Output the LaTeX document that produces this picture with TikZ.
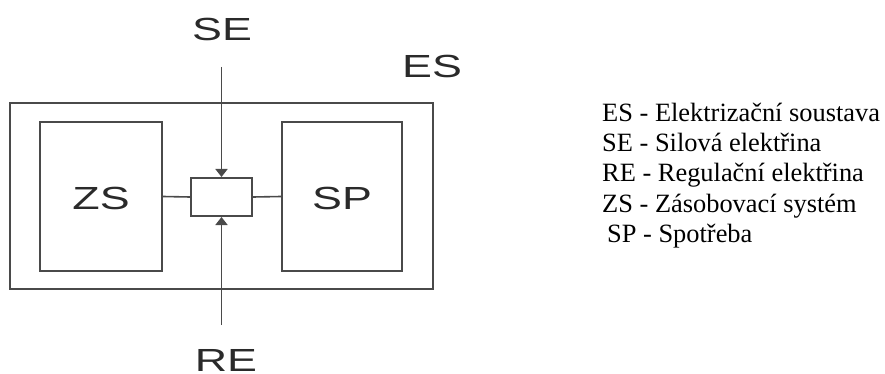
\documentclass[tikz,border=0pt]{standalone}
\usepackage{fontspec}
\setmainfont{Liberation Serif}
\newfontfamily\arialfont{Liberation Sans}
\usetikzlibrary{arrows.meta}
\definecolor{linegray}{HTML}{4A4A4A}
\definecolor{labelgray}{HTML}{2A2A2A}
\begin{document}
\begin{tikzpicture}[x=1pt,y=-1pt,
  box/.style={draw=linegray, line width=2pt, inner sep=0pt, fill=white},
  lbl/.style={font=\arialfont\fontsize{32}{32}\selectfont, text=labelgray, inner sep=0pt, anchor=base},
  conn/.style={draw=linegray, line width=1.6pt},
  arr/.style={conn, -{Triangle[length=8pt,width=12pt]}},
  leg/.style={font=\fontsize{26.4}{30}\selectfont, inner sep=0pt, anchor=base west}
]
\useasboundingbox (0,0) rectangle (885,374);
% boxes
\node[box, minimum width=423pt, minimum height=186pt] (es) at (221.5,196) {};
\node[box, minimum width=122pt, minimum height=149pt] (zs) at (101,196.5) {};
\node[box, minimum width=120pt, minimum height=149pt] (sp) at (342,196.5) {};
\node[box, minimum width=61pt, minimum height=38pt] (ctr) at (221.5,197) {};
% labels
\node[lbl] (zsl) at (101,209) {\scalebox{1.4}[1]{ZS}};
\node[lbl] (spl) at (342,209) {\scalebox{1.4}[1]{SP}};
\node[lbl] (sel) at (222,41) {\scalebox{1.4}[1]{SE}};
\node[lbl] (esl) at (432,78) {\scalebox{1.4}[1]{ES}};
\node[lbl] (rel) at (226,371) {\scalebox{1.4}[1]{RE}};
% connectors
\coordinate (setop) at (221.5,67);
\coordinate (rebot) at (221.5,325);
\draw[conn] (zs.east) -- (ctr.west);
\draw[conn] (ctr.east) -- (sp.west);
\draw[arr] (setop) -- (ctr.north);
\draw[arr] (rebot) -- (ctr.south);
% legend
\node[leg] (l1) at (602,122) {ES - Elektrizační soustava};
\node[leg] (l2) at (602,152) {SE - Silová elektřina};
\node[leg] (l3) at (602,182) {RE - Regulační elektřina};
\node[leg] (l4) at (602,212) {ZS - Zásobovací systém};
\node[leg] (l5) at (607,242) {SP - Spotřeba};
\end{tikzpicture}
\end{document}
